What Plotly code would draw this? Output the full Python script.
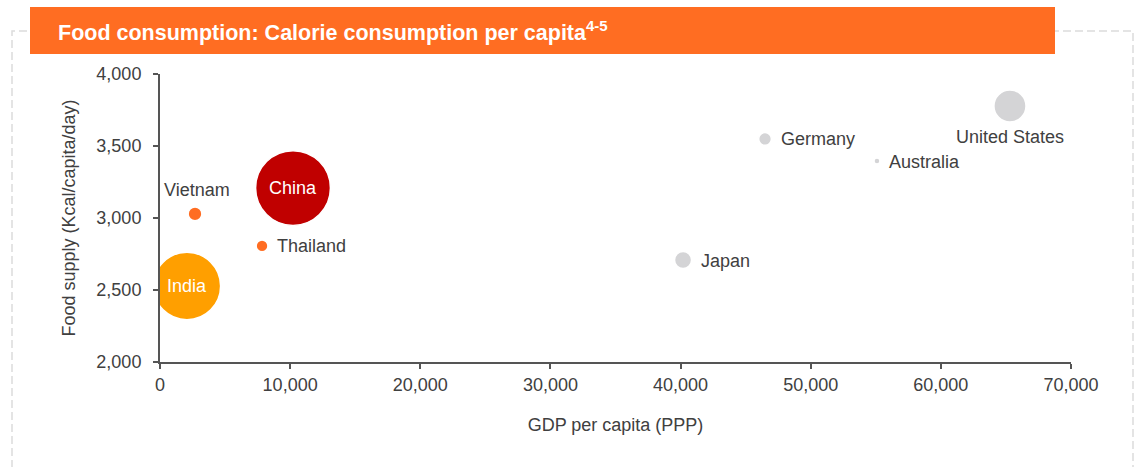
import plotly.graph_objects as go

# Country-level data
countries = ["China", "India", "Vietnam", "Thailand", "Japan", "Germany", "Australia", "United States"]
gdp_per_capita = [10220, 2070, 2690, 7840, 40190, 46490, 55090, 65310]      # GDP per capita (PPP)
food_supply = [3208, 2528, 3028, 2806, 2708, 3549, 3396, 3778]              # Kcal/capita/day
bubble_value = [100, 81, 3.4, 2.5, 5.2, 2.9, 0.33, 18.4]                    # relative bubble weight

x_ticks = [0, 10000, 20000, 30000, 40000, 50000, 60000, 70000]
y_ticks = [2000, 2500, 3000, 3500, 4000]

colors = ["#C00000", "#FF9F00", "#FF6D22", "#FF6D22",
          "#D4D4D6", "#D4D4D6", "#D4D4D6", "#D4D4D6"]

# label placement: (xanchor, yanchor, xshift, yshift, text colour)
label_style = {
    "China": ("center", "middle", 0, 0, "#FFFFFF"),
    "India": ("center", "middle", 0, 0, "#FFFFFF"),
    "Vietnam": ("center", "middle", 2, 24, "#404040"),
    "Thailand": ("left", "middle", 13, 0, "#404040"),
    "Japan": ("left", "middle", 16, -1, "#404040"),
    "Germany": ("left", "middle", 14, 0, "#404040"),
    "Australia": ("left", "middle", 10, -1, "#404040"),
    "United States": ("center", "middle", 0, -31, "#404040"),
}

W, H = 1140, 467
ML, MR, MT, MB = 160, 69, 74, 105
PW, PH = W - ML - MR, H - MT - MB


def px_x(px):
    return (px - ML) / PW


def px_y(py):
    return (H - MB - py) / PH


FONT = "Liberation Sans, Arial, sans-serif"
MAX_DIAM = 70

fig = go.Figure()
fig.add_trace(go.Scatter(
    x=gdp_per_capita,
    y=food_supply,
    mode="markers",
    marker=dict(
        size=bubble_value,
        sizemode="area",
        sizeref=1.75 * max(bubble_value) / MAX_DIAM ** 2,
        sizemin=3,
        color=colors,
        opacity=1,
        line=dict(color="#FFFFFF", width=1.5),
    ),
    cliponaxis=True,
    text=countries,
    hoverinfo="text",
    showlegend=False,
))

annotations = [
    dict(text="<b>Food consumption: Calorie consumption per capita<sup>4-5</sup></b>",
         xref="paper", yref="paper", x=px_x(56), y=px_y(31),
         xanchor="left", yanchor="middle", showarrow=False,
         font=dict(family=FONT, size=21.5, color="#FFFFFF")),
]
for name, gx, fy in zip(countries, gdp_per_capita, food_supply):
    xa, ya, dx, dy, col = label_style[name]
    annotations.append(dict(
        text=name, x=gx, y=fy, xref="x", yref="y",
        xanchor=xa, yanchor=ya, xshift=dx, yshift=dy,
        showarrow=False, font=dict(family=FONT, size=18, color=col),
    ))

axis_common = dict(
    ticks="outside",
    ticklen=5,
    tickwidth=1.5,
    tickcolor="#555555",
    showline=True,
    linecolor="#555555",
    linewidth=2,
    showgrid=False,
    zeroline=False,
    tickfont=dict(size=18, color="#404040"),
    fixedrange=True,
)

# white masks keep bubbles from spilling left of the y axis line (gap left for the 2,500 tick)
edge_masks = [
    dict(type="rect", xref="paper", yref="paper",
         x0=px_x(146), x1=px_x(157.9), y0=px_y(y_bot), y1=px_y(y_top),
         line=dict(width=0), fillcolor="#FFFFFF", layer="above")
    for y_top, y_bot in [(240, 288.8), (291.2, 340)]
]

fig.update_layout(
    width=W,
    height=H,
    margin=dict(l=ML, r=MR, t=MT, b=MB, pad=0),
    paper_bgcolor="#FFFFFF",
    plot_bgcolor="#FFFFFF",
    font=dict(family=FONT, size=18, color="#404040"),
    xaxis=dict(
        range=[0, 70000],
        tickvals=x_ticks,
        ticktext=[f"{v:,}" for v in x_ticks],
        title=dict(text="GDP per capita (PPP)", font=dict(size=18, color="#404040"), standoff=25),
        **axis_common,
    ),
    yaxis=dict(
        range=[2000, 4000],
        tickvals=y_ticks,
        ticktext=[f"{v:,}" for v in y_ticks],
        ticklabelstandoff=8,
        title=dict(text="Food supply (Kcal/capita/day)", font=dict(size=18, color="#404040"), standoff=16),
        **axis_common,
    ),
    shapes=edge_masks + [
        # dashed frame around the panel
        dict(type="rect", xref="paper", yref="paper",
             x0=px_x(12), x1=px_x(1133), y0=px_y(480), y1=px_y(31),
             line=dict(color="#DCDCDC", width=1.5, dash="8px,4px"),
             fillcolor="rgba(0,0,0,0)"),
        # header bar
        dict(type="rect", xref="paper", yref="paper",
             x0=px_x(30), x1=px_x(1055), y0=px_y(54), y1=px_y(7),
             line=dict(width=0), fillcolor="#FF6D22"),
    ],
    annotations=annotations,
)

fig.write_html("out.html")
